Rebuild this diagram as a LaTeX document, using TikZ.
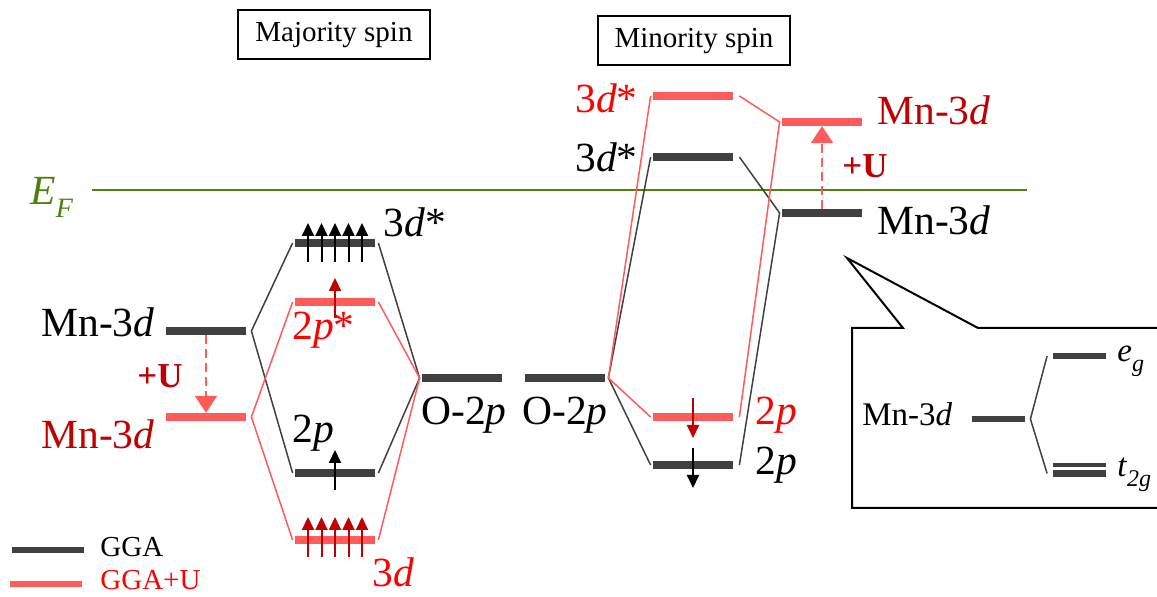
\documentclass[tikz,border=0pt]{standalone}
\usepackage{fontspec}
\setmainfont{Liberation Serif}
\usetikzlibrary{arrows.meta, positioning}
\definecolor{lvlgray}{HTML}{404040}
\definecolor{lvlred}{HTML}{FF5B5B}
\definecolor{txtred}{HTML}{FF0000}
\definecolor{deepred}{HTML}{C00000}
\definecolor{fermigreen}{HTML}{4F7F0F}

\begin{document}
\begin{tikzpicture}[x=0.5pt, y=-0.5pt,
    level/.style={rectangle, inner sep=0pt, minimum width=40pt, minimum height=3.75pt},
    gga/.style={level, fill=lvlgray},
    ggau/.style={level, fill=lvlred},
    link/.style={line width=0.75pt, draw=lvlgray},
    linku/.style={line width=0.75pt, draw=lvlred},
    lbl/.style={inner sep=0pt, font=\fontsize{20.75}{24}\selectfont},
    smalllbl/.style={inner sep=0pt, font=\fontsize{16.5}{19}\selectfont},
    spinarr/.style={-{Triangle[length=6.5pt, width=6pt]}, line width=1pt},
    uarr/.style={-{Triangle[length=8.5pt, width=11pt]}, line width=1pt, color=lvlred,
                 dash pattern=on 4.5pt off 2.5pt},
    ulbl/.style={inner sep=0pt, text=deepred, font=\fontsize{17.5}{20}\selectfont\bfseries},
    spinbox/.style={rectangle, draw, line width=1pt, minimum width=96pt, minimum height=24.5pt,
                 font=\fontsize{14.5}{17}\selectfont},
    inlvl/.style={rectangle, inner sep=0pt, fill=lvlgray, minimum width=26.5pt, minimum height=3pt}
  ]
    \useasboundingbox (0,0) rectangle (1157,597);

    \node[spinbox] (majbox) at (334,35) {Majority spin};
    \node[spinbox] (minbox) at (694,41) {Minority spin};

    % Fermi level
    \coordinate (efstart) at (92,190);
    \coordinate (efend) at (1027,190);
    \draw[line width=1.25pt, fermigreen] (efstart) -- (efend);
    \node[lbl, text=fermigreen, anchor=base west] (ef) at (30,205)
      {\textit{E}\raisebox{-0.3em}{\fontsize{14}{14}\selectfont\textit{F}}};

    % majority spin levels
    \node[gga]  (mnGL) at (206,331) {};
    \node[ggau] (mnUL) at (206,417) {};
    \node[gga]  (dsG)  at (335,243) {};
    \node[ggau] (psU)  at (335,302) {};
    \node[gga]  (pG)   at (335,473) {};
    \node[ggau] (dU)   at (335,540) {};
    \node[gga]  (oL)   at (462,378) {};
    \node[gga]  (oR)   at (565,378) {};

    % minority spin levels
    \node[ggau] (dsUm) at (693,96)  {};
    \node[gga]  (dsGm) at (693,157) {};
    \node[ggau] (pUm)  at (693,417) {};
    \node[gga]  (pGm)  at (693,465) {};
    \node[ggau] (mnUR) at (822,122) {};
    \node[gga]  (mnGR) at (822,213) {};

    \draw[link] ([xshift=-1pt]dsG.west) -- ([xshift=2.5pt]mnGL.east) -- ([xshift=-1pt]pG.west);
    \draw[link] ([xshift=1.5pt]dsG.east) -- ([xshift=-1pt]oL.west) -- ([xshift=1.5pt]pG.east);
    \draw[link] ([xshift=-1pt]dsGm.west) -- ([xshift=1.5pt]oR.east) -- ([xshift=-1pt]pGm.west);
    \draw[link] ([xshift=3pt]dsGm.east) -- ([xshift=-1pt]mnGR.west) -- ([xshift=3pt]pGm.east);
    \draw[linku] ([xshift=-1pt]psU.west) -- ([xshift=2.5pt]mnUL.east) -- ([xshift=-1pt]dU.west);
    \draw[linku] ([xshift=1.5pt]psU.east) -- ([xshift=-1pt]oL.west) -- ([xshift=1.5pt]dU.east);
    \draw[linku] ([xshift=-1pt]dsUm.west) -- ([xshift=1.5pt]oR.east) -- ([xshift=-1pt]pUm.west);
    \draw[linku] ([xshift=3pt]dsUm.east) -- ([xshift=-1pt]mnUR.west) -- ([xshift=3pt]pUm.east);

    % +U shifts
    \draw[uarr] (mnGL.south) -- (mnUL.north);
    \draw[uarr] (mnGR.north) -- (mnUR.south);
    \node[ulbl, anchor=base east] (uL) at (183,388) {+U};
    \node[ulbl, anchor=base west] (uR) at (842,178) {+U};

    % spins
    \foreach \sx in {308,321.5,335,348.5,362} {
      \draw[spinarr, black] (\sx,262) -- (\sx,223);
      \draw[spinarr, deepred] (\sx,557) -- (\sx,517);
    }
    \draw[spinarr, deepred] (335,318) -- (335,278);
    \draw[spinarr, black] (335,490) -- (335,450);
    \draw[spinarr, deepred] (693,398) -- (693,438);
    \draw[spinarr, black] (693,448) -- (693,488);

    % labels
    \node[lbl, anchor=base east] (mnGLlbl) at (155,337) {Mn-3\textit{d}};
    \node[lbl, anchor=base east, text=deepred] (mnULlbl) at (155,449) {Mn-3\textit{d}};
    \node[lbl, anchor=base west] (dsGlbl) at (383,237) {3\textit{d}*};
    \node[lbl, anchor=base west, text=txtred] (psUlbl) at (292,340) {2\textit{p}*};
    \node[lbl, anchor=base west] (pGlbl) at (292,443) {2\textit{p}};
    \node[lbl, anchor=base west, text=txtred] (dUlbl) at (372,587) {3\textit{d}};
    \node[lbl, anchor=base west] (oLlbl) at (421,425) {O-2\textit{p}};
    \node[lbl, anchor=base west] (oRlbl) at (522,425) {O-2\textit{p}};
    \node[lbl, anchor=base east, text=txtred] (dsUmlbl) at (638,113) {3\textit{d}*};
    \node[lbl, anchor=base east] (dsGmlbl) at (638,172) {3\textit{d}*};
    \node[lbl, anchor=base west, text=txtred] (pUmlbl) at (755,425) {2\textit{p}};
    \node[lbl, anchor=base west] (pGmlbl) at (755,475) {2\textit{p}};
    \node[lbl, anchor=base west, text=deepred] (mnURlbl) at (877,125) {Mn-3\textit{d}};
    \node[lbl, anchor=base west] (mnGRlbl) at (877,235) {Mn-3\textit{d}};

    % crystal field inset
    \draw[line width=1pt] (852,328) -- (903,328) -- (847,258) -- (978,328) -- (1170,328)
      -- (1170,508) -- (852,508) -- cycle;
    \node[inlvl] (inMn) at (998.5,419) {};
    \node[inlvl] (inEg) at (1079,356) {};
    \node[inlvl, minimum height=2pt] (inTa) at (1079,465) {};
    \node[inlvl, minimum height=3.5pt] (inTb) at (1079,473.5) {};
    \draw[link] ([xshift=2.5pt]inMn.east) -- ([xshift=-2.5pt]inEg.west);
    \draw[link] ([xshift=2.5pt]inMn.east) -- ([xshift=-2.5pt]inTb.west);
    \node[smalllbl, anchor=base west] (inMnlbl) at (862,426) {Mn-3\textit{d}};
    \node[smalllbl, anchor=base west] (inEglbl) at (1117,362)
      {\textit{e}\raisebox{-0.3em}{\fontsize{12}{12}\selectfont\textit{g}}};
    \node[smalllbl, anchor=base west] (inTlbl) at (1117,477)
      {\textit{t}\raisebox{-0.3em}{\fontsize{12}{12}\selectfont\textit{2g}}};

    % legend
    \node[gga, minimum width=36pt, minimum height=3pt] (leggga) at (48,550) {};
    \node[ggau, minimum width=36pt, minimum height=3.25pt] (legggau) at (46,584) {};
    \node[inner sep=0pt, anchor=base west, font=\fontsize{14.5}{17}\selectfont] (leggtxt) at (100,557) {GGA};
    \node[inner sep=0pt, anchor=base west, text=txtred, font=\fontsize{14.5}{17}\selectfont] (legutxt) at (100,590) {GGA+U};
  \end{tikzpicture}
\end{document}
